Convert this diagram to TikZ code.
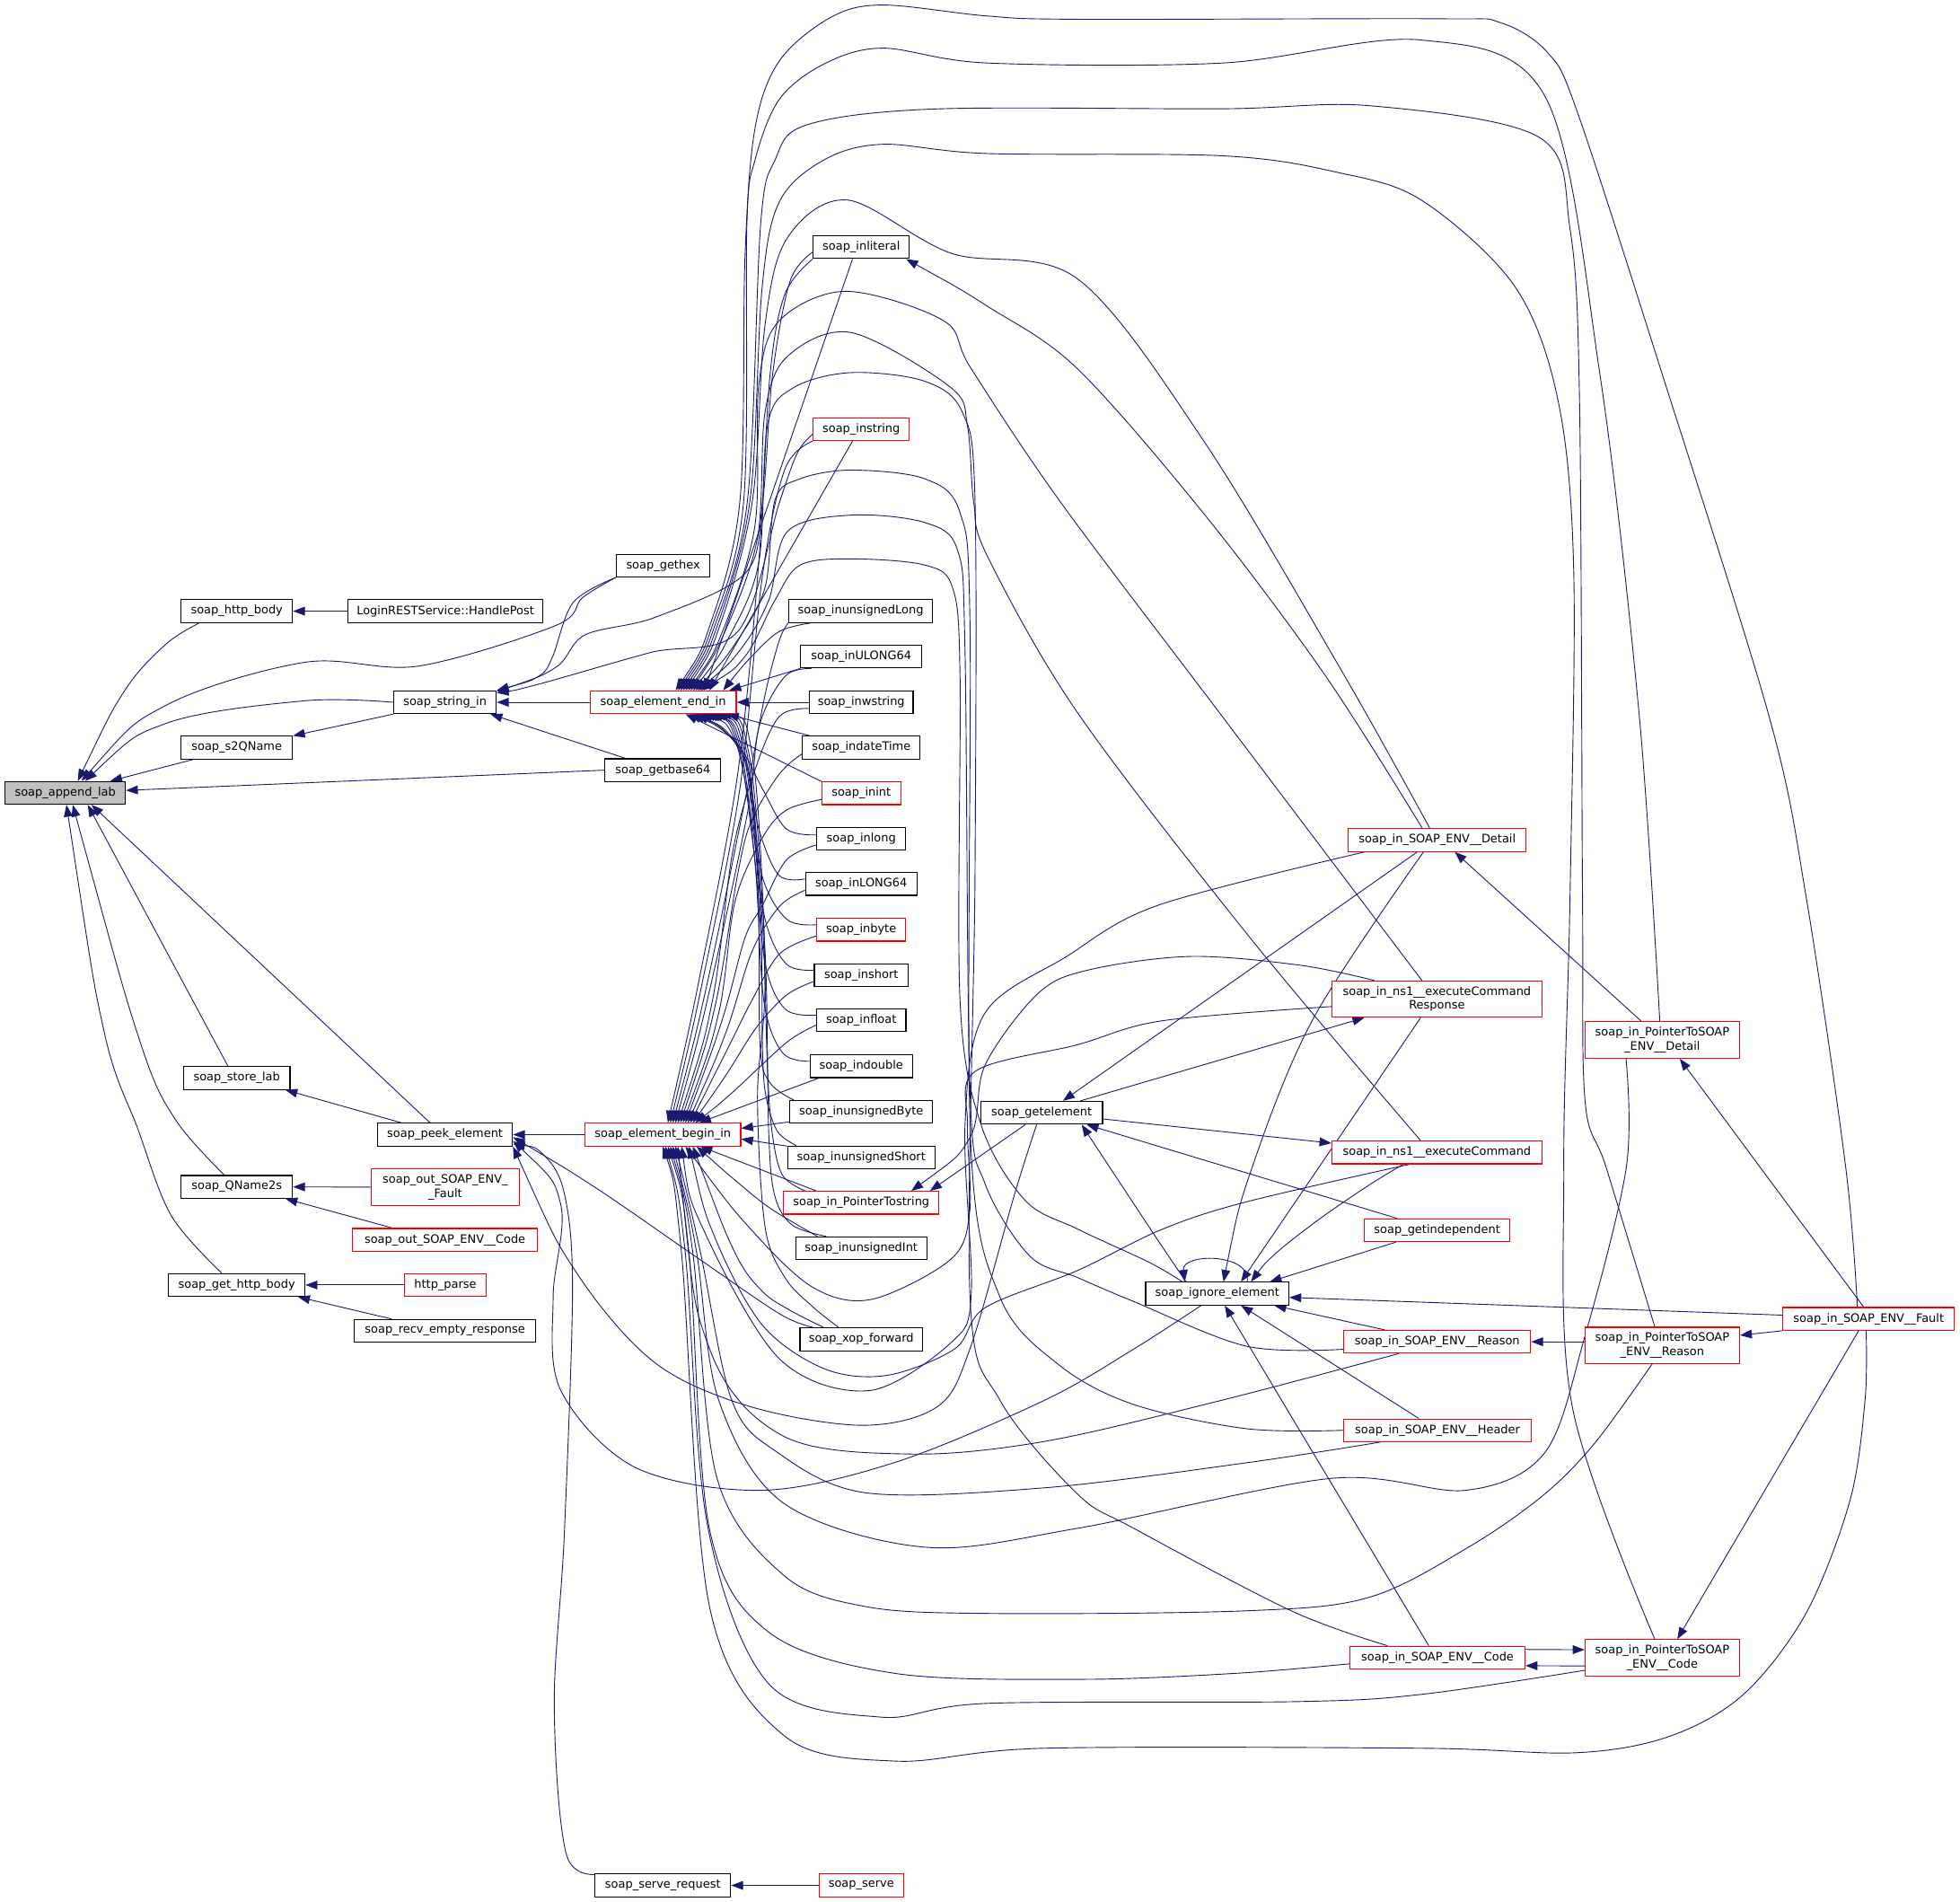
\documentclass[tikz,border=0pt]{standalone}
\usepackage{fontspec}
\setmainfont{DejaVu Sans}
\usetikzlibrary{arrows.meta}
\definecolor{edgec}{RGB}{25,25,112}
\definecolor{redb}{RGB}{255,0,0}
\definecolor{grayf}{RGB}{191,191,191}
\pgfdeclarelayer{bg}
\pgfsetlayers{bg,main}
\tikzset{
  nd/.style={draw=black, line width=0.8pt, fill=white, inner sep=0pt, minimum height=18.2pt, font=\fontsize{9.3}{11.2}\selectfont, align=center},
  rd/.style={nd, draw=redb},
  e/.style={draw=edgec, line width=0.65pt, {Triangle[length=9.5pt,width=7pt]}-},
}
\newcommand{\edgeplot}[1]{\draw[e] plot[smooth,tension=0.55] coordinates {#1};}
\begin{document}
\begin{tikzpicture}[x=1pt,y=-1pt]
\useasboundingbox (0,0) rectangle (1568,1521.3);
% ---------- nodes ----------
\node[nd,fill=grayf,minimum width=96.3pt] (applab) at (52.2,634.2) {soap\_append\_lab};
\node[nd,minimum width=89.2pt] (httpbody) at (189.4,488.8) {soap\_http\_body};
\node[nd,minimum width=89.2pt] (s2qname) at (189.4,598) {soap\_s2QName};
\node[nd,minimum width=85.2pt] (storelab) at (189.4,862.3) {soap\_store\_lab};
\node[nd,minimum width=89.2pt] (qname2s) at (189.4,949.3) {soap\_QName2s};
\node[nd,minimum width=109.2pt] (gethttpbody) at (189.4,1027.8) {soap\_get\_http\_body};
\node[nd,minimum width=155.4pt] (handlepost) at (356.3,488.8) {LoginRESTService::HandlePost};
\node[nd,minimum width=82pt] (stringin) at (356,561.7) {soap\_string\_in};
\node[nd,minimum width=108pt] (peek) at (356,907.5) {soap\_peek\_element};
\node[rd,minimum width=119pt,minimum height=29pt] (outfault) at (356.2,949.5) {soap\_out\_SOAP\_ENV\_\\\_Fault};
\node[rd,minimum width=148pt] (outcode) at (356,991.7) {soap\_out\_SOAP\_ENV\_\_Code};
\node[rd,minimum width=65.2pt] (httpparse) at (356.3,1027.8) {http\_parse};
\node[nd,minimum width=144.8pt] (recvempty) at (356,1064.4) {soap\_recv\_empty\_response};
\node[nd,minimum width=75pt] (gethex) at (530.5,452.4) {soap\_gethex};
\node[rd,minimum width=117pt] (EI) at (530.5,561.7) {soap\_element\_end\_in};
\node[nd,minimum width=92.6pt] (getbase64) at (530.3,616) {soap\_getbase64};
\node[rd,minimum width=124.5pt] (EB) at (530.3,907.5) {soap\_element\_begin\_in};
\node[nd,minimum width=108.5pt] (serverequest) at (530.3,1508) {soap\_serve\_request};
\node[nd,minimum width=77pt] (inliteral) at (689,197.7) {soap\_inliteral};
\node[rd,minimum width=77pt] (instring) at (689,343.3) {soap\_instring};
\node[nd,minimum width=115pt] (inuLong) at (688.5,488.8) {soap\_inunsignedLong};
\node[nd,minimum width=97pt] (inULONG) at (689,525.2) {soap\_inULONG64};
\node[nd,minimum width=83pt] (inwstring) at (689,561.7) {soap\_inwstring};
\node[nd,minimum width=94pt] (indate) at (689,598) {soap\_indateTime};
\node[rd,minimum width=63pt] (inint) at (689,634.5) {soap\_inint};
\node[nd,minimum width=71pt] (inlong) at (689,670.8) {soap\_inlong};
\node[nd,minimum width=89pt] (inLONG) at (689,707) {soap\_inLONG64};
\node[rd,minimum width=71pt] (inbyte) at (689,743.6) {soap\_inbyte};
\node[nd,minimum width=75pt] (inshort) at (689,780) {soap\_inshort};
\node[nd,minimum width=71.5pt] (infloat) at (689,816) {soap\_infloat};
\node[nd,minimum width=82pt] (indouble) at (689,852.8) {soap\_indouble};
\node[nd,minimum width=114pt] (inuByte) at (689,889.3) {soap\_inunsignedByte};
\node[nd,minimum width=118pt] (inuShort) at (689,925.7) {soap\_inunsignedShort};
\node[rd,minimum width=124pt] (inPtrStr) at (689,962) {soap\_in\_PointerTostring};
\node[nd,minimum width=105pt] (inuInt) at (689,998.4) {soap\_inunsignedInt};
\node[nd,minimum width=98pt] (xop) at (689,1071.3) {soap\_xop\_forward};
\node[rd,minimum width=67.6pt] (serve) at (689,1508) {soap\_serve};
\node[nd,minimum width=97.5pt] (getelement) at (833.3,890) {soap\_getelement};
\node[nd,minimum width=114.5pt] (ignore) at (973.8,1034.7) {soap\_ignore\_element};
\node[rd,minimum width=142.3pt] (Detail) at (1149.8,671.9) {soap\_in\_SOAP\_ENV\_\_Detail};
\node[rd,minimum width=168pt,minimum height=29pt] (ExecResp) at (1149.5,799.1) {soap\_in\_ns1\_\_executeCommand\\Response};
\node[rd,minimum width=168pt] (Exec) at (1149.5,921.8) {soap\_in\_ns1\_\_executeCommand};
\node[rd,minimum width=116.2pt] (getindep) at (1149.7,984) {soap\_getindependent};
\node[rd,minimum width=149.5pt] (Reason) at (1149.8,1073.2) {soap\_in\_SOAP\_ENV\_\_Reason};
\node[rd,minimum width=150pt] (Header) at (1150,1144) {soap\_in\_SOAP\_ENV\_\_Header};
\node[rd,minimum width=140pt] (Code) at (1150,1325.8) {soap\_in\_SOAP\_ENV\_\_Code};
\node[rd,minimum width=123.5pt,minimum height=29.4pt] (PtrDetail) at (1329.8,831.7) {soap\_in\_PointerToSOAP\\\_ENV\_\_Detail};
\node[rd,minimum width=123.5pt,minimum height=28.8pt] (PtrReason) at (1329.8,1076) {soap\_in\_PointerToSOAP\\\_ENV\_\_Reason};
\node[rd,minimum width=123.5pt,minimum height=29pt] (PtrCode) at (1329.8,1326) {soap\_in\_PointerToSOAP\\\_ENV\_\_Code};
\node[rd,minimum width=137.4pt] (Fault) at (1494.9,1054.9) {soap\_in\_SOAP\_ENV\_\_Fault};
% ---------- edges ----------
\begin{pgfonlayer}{bg}
% into soap_append_lab
\edgeplot{([xshift=10pt]applab.north) (100,552) (133,515) ([xshift=-30pt]httpbody.south)}
\edgeplot{([xshift=13pt]applab.north) (133,564) (244,529.7) (334.4,532.8) (444.8,500.2) (466,478) (gethex.south west)}
\edgeplot{([xshift=16pt]applab.north) (133.7,578.3) (244,560.5) (stringin.west)}
\draw[e] ([xshift=36pt]applab.north) -- ([xshift=-35pt]s2qname.south);
\draw[e] ([yshift=2pt]applab.east) -- (getbase64.west);
\draw[e] ([xshift=18pt]applab.south) -- ([xshift=-7pt]storelab.north);
\draw[e] ([xshift=21pt]applab.south) -- ([xshift=-12pt]peek.north);
\edgeplot{([xshift=6pt]applab.south) (112,833) (140,895) ([xshift=-10pt]qname2s.north)}
\edgeplot{([xshift=1pt]applab.south) (83.5,826) (110.3,903) (137,972.3) ([xshift=-12pt]gethttpbody.north)}
% second column
\draw[e] (httpbody.east) -- (handlepost.west);
\draw[e] (s2qname.north east) -- (stringin.south west);
\draw[e] ([xshift=-4pt]storelab.south east) -- ([xshift=-35pt]peek.north);
\draw[e] (qname2s.east) -- (outfault.west);
\draw[e] ([xshift=-6pt]qname2s.south east) -- ([xshift=-42pt]outcode.north);
\draw[e] (gethttpbody.east) -- (httpparse.west);
\draw[e] ([xshift=-6pt]gethttpbody.south east) -- ([xshift=-43pt]recvempty.north);
\draw[e] (serverequest.east) -- (serve.west);
\draw[e] (peek.east) -- (EB.west);
% into soap_string_in
\draw[e] (stringin.east) -- (EI.west);
\draw[e] ([xshift=-5pt]stringin.south east) -- ([xshift=-30pt]getbase64.north);
\edgeplot{(stringin.north east) (431,540.8) (442,525.4) (458.5,481.9) (gethex.south west)}
\edgeplot{([yshift=-2pt]stringin.north east) (431,547.2) (520,522) (590.4,504.9) (623.5,402) (638,362) ([yshift=-4pt]instring.west)}
\edgeplot{([yshift=-1pt]stringin.north east) (444.8,533.6) (468,507.8) (524,493.8) (596,458.7) (610,402) (618,300) (632,225) ([yshift=-4pt]inliteral.west)}
% column 5 -> end_in
\draw[e] ([xshift=33pt]EI.north) -- ([xshift=-7pt]inliteral.south);
\draw[e] ([xshift=37pt]EI.north) -- ([xshift=-7pt]instring.south);
\edgeplot{([xshift=48pt]EI.north) (601,525.4) (623.5,505) ([xshift=-40pt]inuLong.south)}
\draw[e] ([xshift=-6pt]EI.north east) -- (inULONG.south west);
\draw[e] (EI.east) -- (inwstring.west);
\draw[e] ([xshift=-8pt]EI.south east) -- ([xshift=-41pt]indate.north);
\draw[e] ([xshift=18pt]EI.south) -- (inint.north west);
\edgeplot{([xshift=21pt]EI.south) (578,584) (596,604) (610,631) (629,663) ([yshift=3pt]inlong.west)}
\edgeplot{([xshift=24pt]EI.south) (581,586) (597,612) (607,663) (623,700) ([yshift=4pt]inLONG.west)}
\edgeplot{([xshift=27pt]EI.south) (584,588) (599,617) (609,698) (629,735) ([yshift=4pt]inbyte.west)}
\edgeplot{([xshift=30pt]EI.south) (587,590) (601,654) (612,735) (629,771) ([yshift=4pt]inshort.west)}
\edgeplot{([xshift=32pt]EI.south) (589,592) (603,680) (612,770) (628,807) ([yshift=4pt]infloat.west)}
\edgeplot{([xshift=34pt]EI.south) (591,594) (604,690) (611,800) (626,842) ([yshift=4pt]indouble.west)}
\edgeplot{([xshift=36pt]EI.south) (593,596) (606,700) (608,835) (616,866) ([xshift=-54pt]inuByte.north)}
\edgeplot{([xshift=38pt]EI.south) (595,598) (608,720) (610,840) (613,878) (622,905) ([xshift=-52pt]inuShort.north)}
\edgeplot{([xshift=40pt]EI.south) (597,600) (610,740) (614,856) (618,908) (626,940) ([xshift=-45pt]inPtrStr.north)}
\edgeplot{([xshift=42pt]EI.south) (599,602) (612,760) (615,907) (620,957) (634,980) ([xshift=-28pt]inuInt.north)}
\edgeplot{([xshift=45pt]EI.south) (602,605) (612,780) (606,877) (612,981) (628,1022) (650,1045) ([xshift=-18pt]xop.north)}
% column 5 -> begin_in
\edgeplot{([xshift=4pt]EB.north) (560,780) (590,620) (607,450) (616,300) (628,235) (inliteral.south west)}
\edgeplot{([xshift=6pt]EB.north) (562,785) (592,630) (610,460) (628,375) (instring.south west)}
\edgeplot{([xshift=8pt]EB.north) (565,790) (596,640) (612,556) (623.5,512) (inuLong.south west)}
\edgeplot{([xshift=10pt]EB.north) (567,795) (598,650) (607.6,580) (628,541) ([xshift=-40pt]inULONG.south)}
\edgeplot{([xshift=12pt]EB.north) (570,800) (586,682) (604.6,614) (623.5,573) ([yshift=-5pt]inwstring.west)}
\edgeplot{([xshift=14pt]EB.north) (572,805) (590,700) (601,657) (623.5,619) ([yshift=-5pt]indate.west)}
\edgeplot{([xshift=16pt]EB.north) (575,810) (588,721) (610,670) (629,648) ([yshift=-5pt]inint.west)}
\edgeplot{([xshift=18pt]EB.north) (578,815) (596,750) (610,724) (629,688) ([yshift=-5pt]inlong.west)}
\edgeplot{([xshift=20pt]EB.north) (581,825) (601.6,761) (623.5,725) ([yshift=-5pt]inLONG.west)}
\edgeplot{([xshift=22pt]EB.north) (584,835) (601.6,800) (623.5,763) ([yshift=-5pt]inbyte.west)}
\edgeplot{([xshift=24pt]EB.north) (582,858) (605,822) (629,796) ([yshift=-5pt]inshort.west)}
\edgeplot{([xshift=26pt]EB.north) (585,874.6) (629,834) ([yshift=-4pt]infloat.west)}
\draw[e] ([xshift=29pt]EB.north) -- ([xshift=-34pt]indouble.south);
\draw[e] ([yshift=5pt]EB.east) -- ([yshift=-8pt]inuByte.west);
\draw[e] ([yshift=-3.5pt]EB.east) -- ([yshift=9pt]inuShort.west);
\draw[e] ([xshift=30pt]EB.south) -- ([xshift=-36pt]inPtrStr.north);
\edgeplot{([xshift=27pt]EB.south) (590.5,946) (617,967) ([xshift=-35pt]inuInt.north)}
\edgeplot{([xshift=24pt]EB.south) (588,1002) (610,1033) (632,1048) ([xshift=-30pt]xop.north)}
% top arches into end_in
\edgeplot{([xshift=10pt]EI.north) (568,500) (592,400) (596,205) (604,102.6) (623.4,48.8) (664.4,14) (706,4) (790,12.8) (862,15.4) (1150,15) (1200,18) (1238,42) (1262,90) (1330,300) (1415.7,574.6) (1445,718) (1476.6,934) ([xshift=-9pt]Fault.north)}
\edgeplot{([xshift=12pt]EI.north) (570,500) (595,400) (597.5,179.6) (604,128) (623.4,79.5) (659,51.3) (706,38.5) (790,50.4) (978,50.4) (1137,32) (1236.5,78) (1280,300) (1311.6,574.6) ([xshift=-2pt]PtrDetail.north)}
\edgeplot{([xshift=14pt]EI.north) (572,500) (598,400) (608.5,179.6) (620,128) (645,100) (747,87.2) (978,87) (1097.6,84.7) (1231.6,110) (1256,183) (1263.6,320) (1266,718) (1268,880) (1285,934) ([xshift=-6pt]PtrReason.north)}
\edgeplot{([xshift=16pt]EI.north) (574,500) (600,400) (609.6,231) (623.4,161.6) (659,128) (706,115.4) (790,122.8) (978,124.6) (1067.8,137.4) (1137,160) (1211.8,229) (1246.5,320.7) (1259,458) (1256,718) (1251,934) (1258,1126) ([xshift=-6pt]PtrCode.north)}
\edgeplot{([xshift=18pt]EI.north) (576,500) (602,400) (612,260) (630,190) (678,160) (761,202.6) (862,223) (963,352.7) (1073,536) ([xshift=-6pt]Detail.north)}
\edgeplot{([xshift=20pt]EI.north) (578,505) (604,420) (607,307.8) (623.4,256.5) (677,233) (755,256.6) (777,295) (848.7,402) (979,574.6) ([xshift=-12pt]ExecResp.north)}
\edgeplot{([xshift=22pt]EI.north) (580,505) (606,430) (612,330) (630,285) (681,266) (760.7,310) (774,341) (779,402) (790,445) (862,570) (1000,750) ([xshift=-13pt]Exec.north)}
\edgeplot{([xshift=24pt]EI.north) (583,510) (607,450) (614,340) (635,310) (681,298) (740,305) (770,330) (780,400) (780,700) (776,1037.5) (800,1120) (862,1195) (907,1222.4) (1033,1288.4) ([xshift=-40pt]Code.north)}
\edgeplot{([xshift=26pt]EI.north) (588,515) (612,470) (620,400) (640,383) (681,376) (740,383) (768,410) (776,500) (776.5,912.6) (800,1037.5) (847.6,1092) (907,1123.4) (997,1142.7) (Header.west)}
\edgeplot{([xshift=28pt]EI.north) (592,520) (615,480) (630,425) (681,412) (740,418) (766,440) (772,520) (776,872.6) (788,946.7) (823.7,1004.5) (862,1021.8) (907,1041) (997,1076.7) ([yshift=-6pt]Reason.west)}
\edgeplot{([xshift=30pt]EI.north) (596,525) (620,480) (640,452) (681,447) (740,452) (762,470) (768,540) (768,800) (785,900) (820,960) (862,983) (920,1010) ([xshift=-28pt]ignore.north)}
% bottom curves into begin_in
\edgeplot{(EB.south) (545,1000) (567.6,1285) (627,1388) (716.5,1408.6) (835.6,1398.3) (1137,1398.3) (1261,1401.9) (1335.8,1388.7) (1395,1355) (1445,1290) (1480,1200) (1492,1120) ([xshift=-2pt]Fault.south)}
\edgeplot{([xshift=2pt]EB.south) (548,1000) (566,1220) (615,1346.8) (704.6,1373.4) (790,1362.4) (1038,1361) (1137.4,1355.2) ([yshift=-10pt]PtrCode.west)}
\edgeplot{([xshift=4pt]EB.south) (551,1000) (567.6,1223) (615.2,1305.6) (716.5,1338.5) (864.5,1343.2) (988.4,1338.4) ([yshift=-5pt]Code.west)}
\edgeplot{([xshift=6pt]EB.south) (554,1000) (573.5,1181.9) (627,1260) (692.6,1285) (790,1290.5) (997,1288.4) (1096,1277.4) (1177.2,1236) (1235.7,1195) (1276.3,1153.6) ([xshift=-8pt]PtrReason.south)}
\edgeplot{([xshift=8pt]EB.south) (557,1000) (575,1120) (627,1202.4) (740,1237.5) (862,1222.4) (1064.5,1182.5) (1172.7,1192) (1235.7,1162) (1267.3,1071) (1301,934) ([xshift=-29pt]PtrDetail.south)}
\edgeplot{([xshift=10pt]EB.south) (560,1000) (585.4,1120) (621,1161) (692.6,1194) (835.6,1190) (997,1170) ([xshift=-46pt]Header.south)}
\edgeplot{([xshift=12pt]EB.south) (567.6,1078.7) (627,1148.8) (728.3,1163) (835.6,1152.9) (974.5,1120.7) ([xshift=-31pt]Reason.south)}
\edgeplot{([xshift=15pt]EB.south) (563,984) (623.5,1086.8) (694.9,1112.3) (760.9,1073.8) (777,1035) (772,900) (787.5,811) (853.3,765) (926.6,724) ([xshift=-58pt]Detail.south)}
\edgeplot{([xshift=18pt]EB.south) (601.4,984) (650.8,1030) (697.6,1039.2) (760.9,1007) (775.8,968.7) (774,900) (780,857) (862,835.6) (929.5,816.5) ([yshift=-6pt]ExecResp.west)}
\edgeplot{([xshift=21pt]EB.south) (572,990) (610,1060) (660,1095) (710,1100) (764,1078.7) (788,1046) (862,1016.2) (929.5,983.3) (997,961.3) ([xshift=-22pt]Exec.south)}
% into soap_peek_element
\edgeplot{([yshift=-2pt]peek.east) (478,951) (555.7,1004.5) (623.4,1050.7) ([xshift=-38pt]xop.north)}
\edgeplot{([yshift=-5pt]peek.east) (448.5,963) (442.5,1037.5) (448.5,1111.8) (508,1173.6) (609.3,1192) (716.5,1169.5) (835.6,1120) (907,1079) ([xshift=-13pt]ignore.south)}
\edgeplot{(peek.south east) (461.5,1018.4) (524,1090) (600,1125) (690,1140) (750,1125) (776,1078.7) (811.7,955) ([xshift=-4pt]getelement.south)}
\edgeplot{([yshift=2pt]peek.south east) (434.7,923.5) (451.4,954.3) (458,1031) (451.4,1228) (443.4,1364.7) (453.5,1484.5) ([xshift=-46pt]serverequest.north)}
% right part
\edgeplot{([xshift=-3pt]inliteral.south east) (790,245) (862,295) (964,412) (1060,540) ([xshift=-12pt]Detail.north)}
\draw[e] ([xshift=17pt]getelement.north) -- ([xshift=-16pt]Detail.south);
\edgeplot{([xshift=5pt]ignore.north) (1001.6,934) (1051,814) ([xshift=-11pt]Detail.south)}
\draw[e] ([xshift=-58pt]ExecResp.south) -- ([xshift=31pt]getelement.north);
\draw[e] ([yshift=-2pt]Exec.north west) -- ([yshift=-5pt]getelement.east);
\edgeplot{([xshift=32pt]getelement.south) (888,934) (925,990) ([xshift=-25pt]ignore.north)}
\draw[e] ([xshift=36pt]getelement.south) -- ([xshift=-32pt]getindep.north);
\draw[e] ([xshift=19pt]ignore.north) -- ([xshift=-13pt]ExecResp.south);
\edgeplot{([xshift=27pt]ignore.north) (1020,1003) (1055.6,975) (1095,948) ([xshift=-27pt]Exec.south)}
\draw[e] ([xshift=42pt]ignore.north) -- ([xshift=-33pt]getindep.south);
\draw[e] ([xshift=-26pt]ignore.north) .. controls (945,1002) and (1001,1002) .. ([xshift=24pt]ignore.north);
\draw[e] ([yshift=-3pt]ignore.east) -- ([yshift=3pt]Fault.west);
\draw[e] ([xshift=-12pt]ignore.south east) -- ([xshift=-42pt]Reason.north);
\draw[e] ([xshift=19pt]ignore.south) -- ([xshift=-15pt]Header.north);
\draw[e] ([xshift=6pt]ignore.south) -- ([xshift=-7pt]Code.north);
\draw[e] (Reason.east) -- (Reason.east -| PtrReason.west);
\draw[e] ([yshift=8pt]PtrReason.east) -- (Fault.south west);
\draw[e] ([xshift=14pt]PtrDetail.south) -- ([xshift=-4pt]Fault.north);
\draw[e] ([xshift=12pt]PtrCode.north) -- ([xshift=-8pt]Fault.south);
\draw[e] ([yshift=6.5pt]PtrCode.west) -- ([yshift=6.5pt]Code.east);
\draw[e] ([yshift=-6.5pt]Code.east) -- ([yshift=-6.5pt]PtrCode.west);
\draw[e] ([xshift=14pt]Detail.south) -- ([xshift=-17pt]PtrDetail.north);
\draw[e] ([xshift=55pt]inPtrStr.north) -- ([xshift=-13pt]getelement.south);
\edgeplot{([xshift=40pt]inPtrStr.north) (776,909.7) (788,852) (830,795) (870,776) (952,765) (1040,772) ([xshift=-50pt]ExecResp.north)}
\end{pgfonlayer}
\end{tikzpicture}
\end{document}
